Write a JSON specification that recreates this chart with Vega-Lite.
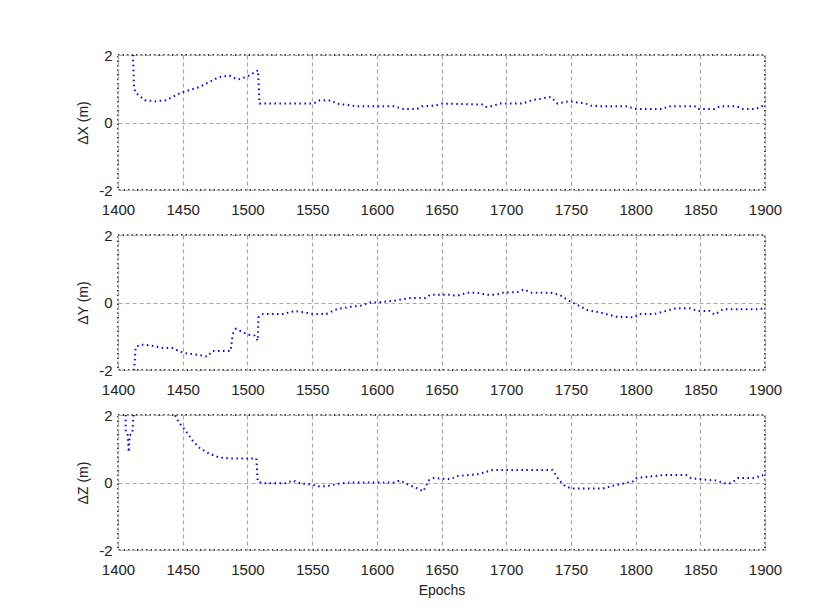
{
  "$schema": "https://vega.github.io/schema/vega-lite/v6.json",
  "background": "white",
  "padding": {"left": 75, "top": 47, "right": 10, "bottom": 10},
  "spacing": 45,
  "bounds": "flush",
  "config": {
    "font": "Liberation Sans",
    "view": {"stroke": "black", "strokeDash": [1.5, 3], "strokeWidth": 1.5},
    "axis": {
      "domain": false,
      "ticks": false,
      "labelFont": "Liberation Sans",
      "labelFontSize": 15,
      "labelColor": "#222",
      "titleFont": "Liberation Sans",
      "titleFontSize": 14,
      "titleFontWeight": "normal",
      "titleColor": "#222",
      "gridColor": "#a8a8a8",
      "gridDash": [4, 3],
      "gridWidth": 1.2,
      "gridOpacity": 1
    }
  },
  "datasets": {
    "dx": [
      {"epoch": 1411, "v": 2.6},
      {"epoch": 1412.4, "v": 1.02},
      {"epoch": 1413.7, "v": 0.88},
      {"epoch": 1420.7, "v": 0.66},
      {"epoch": 1429, "v": 0.63},
      {"epoch": 1437, "v": 0.66},
      {"epoch": 1448.6, "v": 0.88},
      {"epoch": 1462.9, "v": 1.05},
      {"epoch": 1478.4, "v": 1.35},
      {"epoch": 1486.2, "v": 1.39},
      {"epoch": 1492.6, "v": 1.27},
      {"epoch": 1500.4, "v": 1.37},
      {"epoch": 1508.2, "v": 1.55},
      {"epoch": 1509.4, "v": 0.56},
      {"epoch": 1550.8, "v": 0.56},
      {"epoch": 1556, "v": 0.66},
      {"epoch": 1565, "v": 0.65},
      {"epoch": 1569, "v": 0.56},
      {"epoch": 1584.5, "v": 0.48},
      {"epoch": 1613, "v": 0.48},
      {"epoch": 1620.7, "v": 0.4},
      {"epoch": 1631, "v": 0.4},
      {"epoch": 1635, "v": 0.48},
      {"epoch": 1645, "v": 0.5},
      {"epoch": 1650.5, "v": 0.56},
      {"epoch": 1681.5, "v": 0.53},
      {"epoch": 1684, "v": 0.46},
      {"epoch": 1690.6, "v": 0.5},
      {"epoch": 1694.4, "v": 0.56},
      {"epoch": 1712.5, "v": 0.56},
      {"epoch": 1720, "v": 0.66},
      {"epoch": 1734.5, "v": 0.76},
      {"epoch": 1739.7, "v": 0.56},
      {"epoch": 1748.7, "v": 0.63},
      {"epoch": 1761.6, "v": 0.56},
      {"epoch": 1765.5, "v": 0.5},
      {"epoch": 1772, "v": 0.48},
      {"epoch": 1794, "v": 0.48},
      {"epoch": 1799, "v": 0.4},
      {"epoch": 1821, "v": 0.4},
      {"epoch": 1825, "v": 0.48},
      {"epoch": 1845.7, "v": 0.48},
      {"epoch": 1848, "v": 0.4},
      {"epoch": 1861, "v": 0.4},
      {"epoch": 1865, "v": 0.48},
      {"epoch": 1878, "v": 0.48},
      {"epoch": 1883, "v": 0.4},
      {"epoch": 1893, "v": 0.4},
      {"epoch": 1898.6, "v": 0.5}
    ],
    "dy": [
      {"epoch": 1411, "v": -2.6},
      {"epoch": 1412.4, "v": -2.0},
      {"epoch": 1413.7, "v": -1.32},
      {"epoch": 1417.6, "v": -1.25},
      {"epoch": 1425, "v": -1.27},
      {"epoch": 1434, "v": -1.34},
      {"epoch": 1442, "v": -1.35},
      {"epoch": 1451, "v": -1.5},
      {"epoch": 1460, "v": -1.54},
      {"epoch": 1469, "v": -1.6},
      {"epoch": 1473, "v": -1.44},
      {"epoch": 1487, "v": -1.44},
      {"epoch": 1488.7, "v": -0.93},
      {"epoch": 1491, "v": -0.78},
      {"epoch": 1500.4, "v": -0.95},
      {"epoch": 1505.6, "v": -0.98},
      {"epoch": 1508, "v": -1.13},
      {"epoch": 1508.5, "v": -0.44},
      {"epoch": 1512, "v": -0.34},
      {"epoch": 1527.6, "v": -0.34},
      {"epoch": 1536.6, "v": -0.25},
      {"epoch": 1550.8, "v": -0.34},
      {"epoch": 1561, "v": -0.34},
      {"epoch": 1569, "v": -0.2},
      {"epoch": 1579, "v": -0.13},
      {"epoch": 1587, "v": -0.1},
      {"epoch": 1595, "v": 0.0},
      {"epoch": 1600, "v": 0.0},
      {"epoch": 1613, "v": 0.05},
      {"epoch": 1625, "v": 0.13},
      {"epoch": 1637.6, "v": 0.13},
      {"epoch": 1641.5, "v": 0.23},
      {"epoch": 1655.7, "v": 0.23},
      {"epoch": 1662, "v": 0.2},
      {"epoch": 1670, "v": 0.29},
      {"epoch": 1677.6, "v": 0.29},
      {"epoch": 1685, "v": 0.23},
      {"epoch": 1692, "v": 0.23},
      {"epoch": 1697, "v": 0.29},
      {"epoch": 1708.7, "v": 0.31},
      {"epoch": 1714, "v": 0.39},
      {"epoch": 1719, "v": 0.29},
      {"epoch": 1734.5, "v": 0.29},
      {"epoch": 1741, "v": 0.23},
      {"epoch": 1748.7, "v": 0.05},
      {"epoch": 1756.5, "v": -0.1},
      {"epoch": 1763, "v": -0.23},
      {"epoch": 1772, "v": -0.29},
      {"epoch": 1785, "v": -0.42},
      {"epoch": 1799, "v": -0.44},
      {"epoch": 1803, "v": -0.34},
      {"epoch": 1814.6, "v": -0.34},
      {"epoch": 1823.6, "v": -0.25},
      {"epoch": 1831, "v": -0.17},
      {"epoch": 1841.7, "v": -0.17},
      {"epoch": 1848, "v": -0.25},
      {"epoch": 1857, "v": -0.25},
      {"epoch": 1861, "v": -0.36},
      {"epoch": 1867.6, "v": -0.2},
      {"epoch": 1896, "v": -0.2},
      {"epoch": 1898.6, "v": -0.17}
    ],
    "dz": [
      {"epoch": 1405.5, "v": 2.6},
      {"epoch": 1406, "v": 1.5},
      {"epoch": 1407.5, "v": 1.4},
      {"epoch": 1408.3, "v": 0.9},
      {"epoch": 1409, "v": 1.4},
      {"epoch": 1411, "v": 1.45},
      {"epoch": 1412, "v": 1.95},
      {"epoch": 1413, "v": 2.6},
      {"epoch": 1440, "v": 2.3},
      {"epoch": 1444.8, "v": 1.94},
      {"epoch": 1447, "v": 1.78},
      {"epoch": 1452.5, "v": 1.53},
      {"epoch": 1457.7, "v": 1.24},
      {"epoch": 1462.9, "v": 1.03},
      {"epoch": 1470.6, "v": 0.85},
      {"epoch": 1478.4, "v": 0.74},
      {"epoch": 1488.7, "v": 0.71},
      {"epoch": 1499, "v": 0.71},
      {"epoch": 1506.9, "v": 0.71},
      {"epoch": 1508, "v": 0.03},
      {"epoch": 1512, "v": -0.02},
      {"epoch": 1530, "v": -0.02},
      {"epoch": 1535, "v": 0.06},
      {"epoch": 1540.5, "v": -0.02},
      {"epoch": 1550.8, "v": -0.07},
      {"epoch": 1556, "v": -0.12},
      {"epoch": 1562.5, "v": -0.1},
      {"epoch": 1570, "v": -0.04},
      {"epoch": 1579, "v": 0.0},
      {"epoch": 1613, "v": 0.0},
      {"epoch": 1618, "v": 0.06},
      {"epoch": 1624.7, "v": -0.07},
      {"epoch": 1631, "v": -0.17},
      {"epoch": 1636, "v": -0.26},
      {"epoch": 1640, "v": 0.06},
      {"epoch": 1644, "v": 0.13},
      {"epoch": 1657, "v": 0.1},
      {"epoch": 1662, "v": 0.19},
      {"epoch": 1679, "v": 0.25},
      {"epoch": 1689, "v": 0.37},
      {"epoch": 1735.8, "v": 0.37},
      {"epoch": 1741, "v": 0.06},
      {"epoch": 1746, "v": -0.12},
      {"epoch": 1751, "v": -0.18},
      {"epoch": 1774.5, "v": -0.18},
      {"epoch": 1782, "v": -0.1},
      {"epoch": 1797.8, "v": 0.03},
      {"epoch": 1800.4, "v": 0.13},
      {"epoch": 1821, "v": 0.22},
      {"epoch": 1839, "v": 0.22},
      {"epoch": 1843, "v": 0.13},
      {"epoch": 1854.7, "v": 0.08},
      {"epoch": 1862, "v": 0.06},
      {"epoch": 1868.6, "v": -0.02},
      {"epoch": 1874, "v": -0.02},
      {"epoch": 1879, "v": 0.13},
      {"epoch": 1891, "v": 0.13},
      {"epoch": 1898.6, "v": 0.22}
    ]
  },
  "vconcat": [
    {
      "width": 647,
      "height": 135,
      "data": {"name": "dx"},
      "mark": {"type": "line", "clip": true, "color": "#0000ff", "strokeWidth": 2, "strokeDash": [1.5, 3.5]},
      "encoding": {
        "x": {"field": "epoch", "type": "quantitative", "scale": {"domain": [1400, 1900], "nice": false}, "axis": {"values": [1400, 1450, 1500, 1550, 1600, 1650, 1700, 1750, 1800, 1850, 1900], "format": "d", "title": null, "labelPadding": 12, "labelFlush": false}},
        "y": {"field": "v", "type": "quantitative", "scale": {"domain": [-2, 2], "nice": false}, "axis": {"values": [-2, 0, 2], "labelExpr": "replace(datum.label, '−', '-')", "title": "ΔX (m)", "labelPadding": 6, "titlePadding": 8}}
      }
    },
    {
      "width": 647,
      "height": 135,
      "data": {"name": "dy"},
      "mark": {"type": "line", "clip": true, "color": "#0000ff", "strokeWidth": 2, "strokeDash": [1.5, 3.5]},
      "encoding": {
        "x": {"field": "epoch", "type": "quantitative", "scale": {"domain": [1400, 1900], "nice": false}, "axis": {"values": [1400, 1450, 1500, 1550, 1600, 1650, 1700, 1750, 1800, 1850, 1900], "format": "d", "title": null, "labelPadding": 12, "labelFlush": false}},
        "y": {"field": "v", "type": "quantitative", "scale": {"domain": [-2, 2], "nice": false}, "axis": {"values": [-2, 0, 2], "labelExpr": "replace(datum.label, '−', '-')", "title": "ΔY (m)", "labelPadding": 6, "titlePadding": 8}}
      }
    },
    {
      "width": 647,
      "height": 135,
      "data": {"name": "dz"},
      "mark": {"type": "line", "clip": true, "color": "#0000ff", "strokeWidth": 2, "strokeDash": [1.5, 3.5]},
      "encoding": {
        "x": {"field": "epoch", "type": "quantitative", "scale": {"domain": [1400, 1900], "nice": false}, "axis": {"values": [1400, 1450, 1500, 1550, 1600, 1650, 1700, 1750, 1800, 1850, 1900], "format": "d", "title": "Epochs", "labelPadding": 12, "titlePadding": 6, "labelFlush": false}},
        "y": {"field": "v", "type": "quantitative", "scale": {"domain": [-2, 2], "nice": false}, "axis": {"values": [-2, 0, 2], "labelExpr": "replace(datum.label, '−', '-')", "title": "ΔZ (m)", "labelPadding": 6, "titlePadding": 8}}
      }
    }
  ]
}
